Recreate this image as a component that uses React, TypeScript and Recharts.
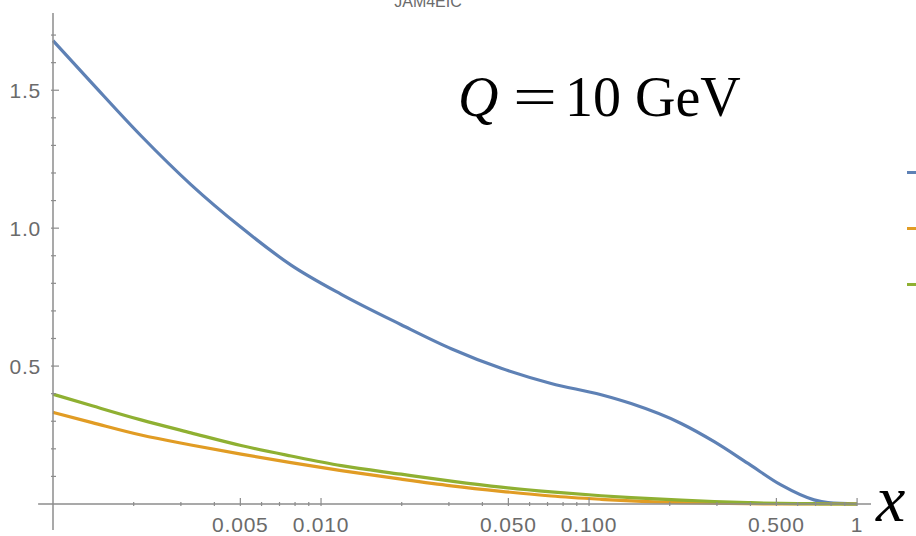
import { LineChart, Line, XAxis, YAxis, ReferenceLine } from "recharts";

// x grid (log scale) and the three curves
const xValues = [
  0.001, 0.0014, 0.00213, 0.00327, 0.00503, 0.00773, 0.0119, 0.0199, 0.0306,
  0.047, 0.0722, 0.111, 0.1435, 0.2206, 0.293, 0.392, 0.52, 0.691, 0.779, 1.0,
];
const blueValues = [
  1.68, 1.525, 1.335, 1.158, 1.003, 0.866, 0.76, 0.65, 0.563, 0.492,
  0.437, 0.396, 0.364, 0.292, 0.226, 0.147, 0.069, 0.015, 0.005, 0.0,
];
const orangeValues = [
  0.332, 0.295, 0.25, 0.214, 0.181, 0.15, 0.121, 0.09, 0.066, 0.046,
  0.029, 0.017, 0.011, 0.005, 0.003, 0.001, 0.0, 0.0, 0.0, 0.0,
];
const greenValues = [
  0.398, 0.356, 0.305, 0.258, 0.212, 0.174, 0.139, 0.108, 0.083, 0.061,
  0.044, 0.03, 0.023, 0.014, 0.009, 0.005, 0.002, 0.001, 0.0, 0.0,
];

const seriesNames = ["blue", "orange", "green"];
const seriesColors = ["#5E81B5", "#E19C24", "#8FB032"];

const xMajorTicks = [0.005, 0.01, 0.05, 0.1, 0.5, 1];
const xMajorLabels = ["0.005", "0.010", "0.050", "0.100", "0.500", "1"];
const xMinorTicks = [
  0.002, 0.003, 0.004, 0.006, 0.007, 0.008, 0.009,
  0.02, 0.03, 0.04, 0.06, 0.07, 0.08, 0.09,
  0.2, 0.3, 0.4, 0.6, 0.7, 0.8, 0.9,
];
const yMajorTicks = [0.5, 1.0, 1.5];
const yMajorLabels = ["0.5", "1.0", "1.5"];
const yMinorTicks = [
  0.1, 0.2, 0.3, 0.4, 0.6, 0.7, 0.8, 0.9, 1.1, 1.2, 1.3, 1.4, 1.6, 1.7,
];

const data = xValues.map((x, i) => ({
  x,
  blue: blueValues[i],
  orange: orangeValues[i],
  green: greenValues[i],
}));

const AXIS = "#8c8c8c";
const LABEL = "#6b6b6b";
const SANS = "'Liberation Sans', Arial, sans-serif";
const SERIF = "'Liberation Serif', 'Times New Roman', serif";

const XTick = (props: any) => {
  const { x, y, payload } = props;
  const i = xMajorTicks.indexOf(payload.value);
  return (
    <g>
      <line x1={x} x2={x} y1={y} y2={y - (i >= 0 ? 8 : 4)} stroke={AXIS} strokeWidth={1.2} />
      {i >= 0 && (
        <text x={x} y={y + 26} textAnchor="middle" fill={LABEL} fontSize={21} fontFamily={SANS} letterSpacing={0.8}>
          {xMajorLabels[i]}
        </text>
      )}
    </g>
  );
};

const YTick = (props: any) => {
  const { x, y, payload } = props;
  const i = yMajorTicks.indexOf(payload.value);
  return (
    <g>
      <line x1={x} x2={x + (i >= 0 ? 8 : 5)} y1={y} y2={y} stroke={AXIS} strokeWidth={1.2} />
      {i >= 0 && (
        <text x={x - 10} y={y + 8} textAnchor="end" fill={LABEL} fontSize={21} fontFamily={SANS} letterSpacing={0.8}>
          {yMajorLabels[i]}
        </text>
      )}
    </g>
  );
};

export default function App() {
  return (
    <div style={{ position: "absolute", left: 0, top: 0, width: 916, height: 536, overflow: "hidden", background: "#fff" }}>
      <LineChart width={916} height={536} data={data} margin={{ top: 13, right: 45, bottom: 0, left: 0 }}>
        <XAxis
          dataKey="x"
          type="number"
          scale="log"
          domain={[0.001, 1.127]}
          ticks={[...xMajorTicks, ...xMinorTicks].sort((a, b) => a - b)}
          interval={0}
          tick={<XTick />}
          tickSize={0}
          tickLine={false}
          height={32}
          axisLine={{ stroke: AXIS, strokeWidth: 1.5 }}
        />
        <YAxis
          type="number"
          domain={[0, 1.78]}
          ticks={[...yMajorTicks, ...yMinorTicks].sort((a, b) => a - b)}
          interval={0}
          tick={<YTick />}
          tickSize={0}
          tickLine={false}
          width={53}
          axisLine={{ stroke: AXIS, strokeWidth: 1.5 }}
        />

        {/* axis stubs past the crossing point */}
        <ReferenceLine
          segment={[{ x: 0.001, y: -0.094 }, { x: 0.001, y: 0 }]}
          ifOverflow="visible"
          stroke={AXIS}
          strokeWidth={1.5}
        />
        <ReferenceLine
          segment={[{ x: 0.00088, y: 0 }, { x: 0.001, y: 0 }]}
          ifOverflow="visible"
          stroke={AXIS}
          strokeWidth={1.5}
        />

        {seriesNames.map((name, i) => (
          <Line
            key={name}
            type="monotone"
            dataKey={name}
            stroke={seriesColors[i]}
            strokeWidth={3.2}
            dot={false}
            isAnimationActive={false}
          />
        ))}

        {/* TITLE (mostly cut off at the top) */}
        <text x={428} y={7} textAnchor="middle" fill={LABEL} fontSize={16} fontFamily={SANS}>
          JAM4EIC
        </text>

        {/* ANNOTATION */}
        <text x={458} y={116} fontSize={56} fontFamily={SERIF} fontStyle="italic" fill="#000">
          Q
        </text>
        <text x={513} y={116} fontSize={56} fontFamily={SERIF} fill="#000" textLength={44} lengthAdjust="spacingAndGlyphs">
          =
        </text>
        <text x={565} y={116} fontSize={56} fontFamily={SERIF} fill="#000">
          10 GeV
        </text>
        <text x={876} y={521} fontSize={66} fontFamily={SERIF} fontStyle="italic" fill="#000">
          x
        </text>
      </LineChart>

      {/* LEGEND swatches, cut by the right edge */}
      <div style={{ position: "absolute", left: 907, top: 171 }}>
        {seriesColors.map((c) => (
          <div key={c} style={{ width: 20, height: 3, background: c, marginBottom: 53 }} />
        ))}
      </div>
    </div>
  );
}
